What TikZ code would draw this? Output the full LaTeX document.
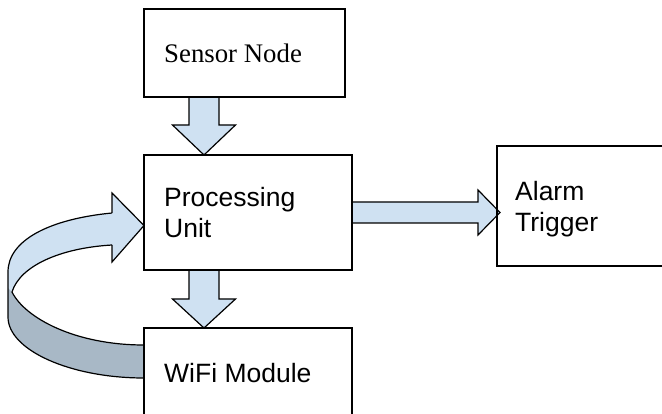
\documentclass[tikz,border=0pt]{standalone}
\usepackage{fontspec}
\setmainfont{Liberation Serif}
\newfontfamily\labelsans{Liberation Sans}
\usetikzlibrary{calc,backgrounds}
\definecolor{bandlight}{RGB}{207,225,242}
\definecolor{banddark}{RGB}{168,184,198}

\tikzset{
  box/.style={draw=black, line width=1.2pt, inner sep=0pt, outer sep=0pt},
  blockarrow/.style={draw=black, line width=1.2pt, fill=bandlight, line join=miter},
  ribbonline/.style={draw=black, line width=1.2pt, line join=miter},
  % multi-line labels are placed by the baseline of their last line
  sanslabel/.style={font=\labelsans\fontsize{26.5}{31}\selectfont, inner sep=0pt, anchor=base west, align=left},
  seriflabel/.style={font=\fontsize{26.8}{31}\selectfont, inner sep=0pt, anchor=base west},
}

% straight block arrow pointing down: start, tip, shaft half width, head half width, head length
\newcommand\downblock[5]{%
  \path[blockarrow] let \p1=(#1), \p2=(#2) in
    (\x1-#3,\y1) -- (\x1-#3,\y2+#5) -- (\x1-#4,\y2+#5) -- (\x2,\y2)
    -- (\x1+#4,\y2+#5) -- (\x1+#3,\y2+#5) -- (\x1+#3,\y1) -- cycle;}
% straight block arrow pointing right
\newcommand\rightblock[5]{%
  \path[blockarrow] let \p1=(#1), \p2=(#2) in
    (\x1,\y1+#3) -- (\x2-#5,\y1+#3) -- (\x2-#5,\y1+#4) -- (\x2,\y1)
    -- (\x2-#5,\y1-#4) -- (\x2-#5,\y1-#3) -- (\x1,\y1-#3) -- cycle;}

\begin{document}
\begin{tikzpicture}[x=1pt,y=-1pt]
\useasboundingbox (0,0) rectangle (662,414);
\clip (0,0) rectangle (662,414);

% blocks
\node[box, minimum width=201pt, minimum height=88pt]  (sensor) at (244.5,53)   {};
\node[box, minimum width=208pt, minimum height=115pt] (proc)   at (248,212.5)  {};
\node[box, minimum width=208pt, minimum height=115pt] (wifi)   at (248,385.5)  {};
\node[box, minimum width=200pt, minimum height=120pt] (alarm)  at (597,206)    {};

% labels
\node[seriflabel] (sensorlbl) at (164,63)  {Sensor Node};
\node[sanslabel]  (proclbl)   at (164,238) {Processing\\Unit};
\node[sanslabel]  (alarmlbl)  at (515,232) {Alarm\\Trigger};
\node[sanslabel]  (wifilbl)   at (164,382) {WiFi Module};

% anchor points for the connectors
\coordinate (d1s) at ($(sensor.south west)+(60,0)$);
\coordinate (d1e) at ($(proc.north west)+(60,0)$);
\coordinate (d2s) at ($(proc.south west)+(60,0)$);
\coordinate (d2e) at ($(wifi.north west)+(60,0)$);
\coordinate (rt)  at ($(alarm.west |- proc.east)+(3,0)$);
\coordinate (ctip)   at ($(proc.west)+(0,13)$);
\coordinate (ctailA) at ($(wifi.north west)+(0,17)$);
\coordinate (ctailB) at ($(wifi.north west)+(0,50)$);

\begin{scope}[on background layer]
  \downblock{d1s}{d1e}{15pt}{31.5pt}{30pt}
  \downblock{d2s}{d2e}{15pt}{31.5pt}{29pt}
  \rightblock{proc.east}{rt}{10.5pt}{22.5pt}{22pt}

  % curved return arrow from the WiFi module: underside of the ribbon
  \fill[banddark] (8,284) -- (8,317) .. controls (8,350) and (70,378) .. (ctailB)
    -- (ctailA) .. controls (75,345) and (25,318) .. (12,292) -- cycle;
  % upper face of the ribbon with its head
  \fill[bandlight] (112,213) .. controls (50,219) and (8,240) .. (8,272) -- (8,288)
    -- (12,292) .. controls (20,266) and (60,248) .. (112,245)
    -- (112,262) -- (ctip) -- (112,193) -- cycle;
  % outlines
  \path[ribbonline] (112,213) .. controls (50,219) and (8,240) .. (8,272)
    -- (8,317) .. controls (8,350) and (70,378) .. (ctailB);
  \path[ribbonline] (112,245) .. controls (60,248) and (20,266) .. (12,292)
    .. controls (25,318) and (75,345) .. (ctailA);
  \path[ribbonline] (112,213) -- (112,193) -- (ctip) -- (112,262) -- (112,245);
\end{scope}
\end{tikzpicture}
\end{document}
